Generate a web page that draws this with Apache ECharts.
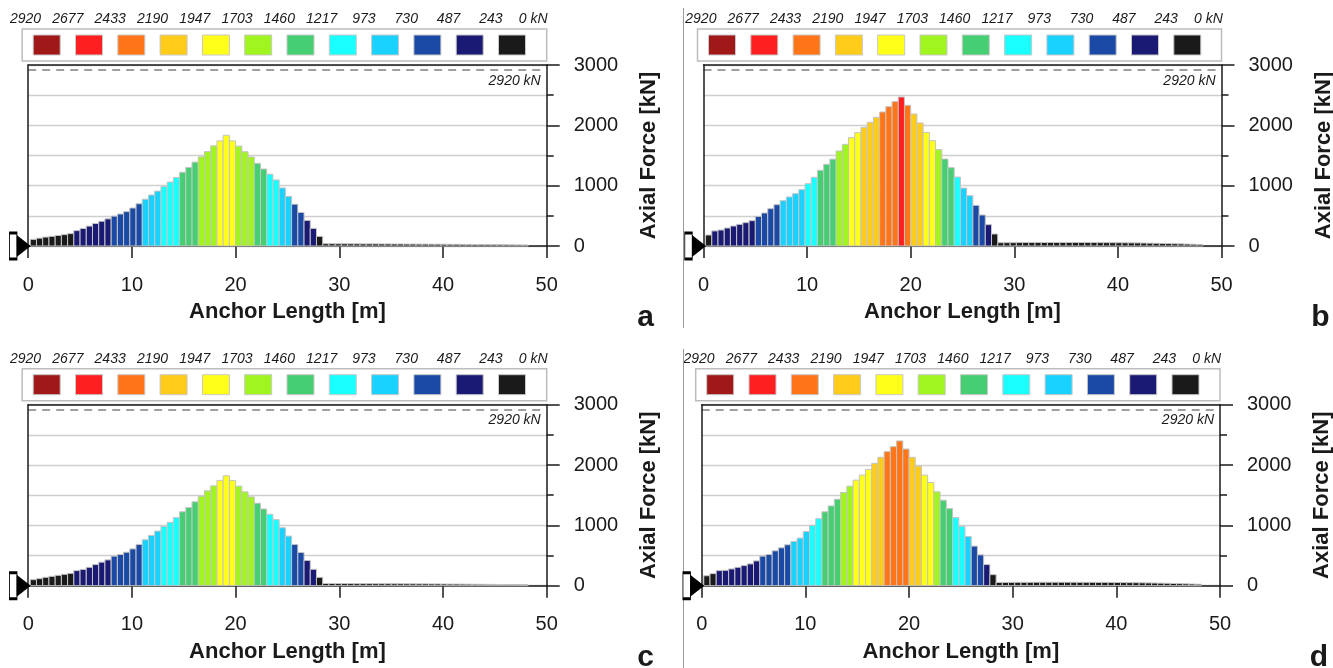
<!DOCTYPE html>
<html><head><meta charset="utf-8">
<script src="https://cdn.jsdelivr.net/npm/echarts@6/dist/echarts.min.js"></script>
<style>html,body{margin:0;padding:0;background:#fff}#chart{width:1333px;height:668px}</style>
</head><body><div id="chart"></div>
<script>
// ---- legend (colour classes, high to low) ----
const legendLabels = ['2920','2677','2433','2190','1947','1703','1460','1217','973','730','487','243','0 kN'];
const classThresholds = [2920,2677,2433,2190,1947,1703,1460,1217,973,730,487,243,0];
const classColors = ['#a01818','#fe2020','#ff7518','#ffcc1a','#ffff1a','#a0f51f','#45cf72','#1affff','#1ad2ff','#1a4aa5','#1a1a75','#1a1a1a'];
const tendonCapacity = 2920;

// ---- anchor elements ----
const FIRST_ELEMENT_M = 0.2;
const ELEMENT_LENGTH_M = 0.6;

// ---- axial force per element [kN], bonded part ----
const forceA = [110,130,148,160,175,188,205,255,290,330,372,410,450,495,530,570,630,700,775,845,910,985,1060,1135,1221,1303,1390,1478,1565,1660,1742,1835,1742,1655,1562,1475,1370,1276,1190,1095,962,820,693,555,424,292,160];
const forceB = [182,250,265,298,331,359,387,420,490,547,619,685,751,812,867,934,1033,1138,1254,1354,1440,1575,1685,1796,1879,1967,2050,2133,2221,2310,2393,2470,2332,2188,2039,1884,1746,1597,1442,1298,1143,960,834,674,514,354,199];
const forceC = [100,117,139,155,172,189,205,250,270,305,350,390,428,490,517,555,610,683,761,833,905,983,1050,1128,1225,1295,1390,1483,1572,1655,1745,1822,1745,1650,1555,1472,1367,1272,1183,1094,961,822,683,550,417,272,139];
const forceD = [165,200,250,255,278,305,333,361,411,490,517,578,628,678,733,789,900,1000,1111,1225,1322,1433,1544,1650,1750,1833,1928,2028,2128,2222,2305,2400,2265,2128,1983,1833,1710,1556,1417,1278,1128,985,817,656,511,350,183];
// ---- free length (tail) ----
const tailA = [38,38,37,37,36,36,35,35,35,34,34,33,33,32,32,31,31,30,30,29,28,28,27,26,25,24,23,22,21,20,19,18,17];
const tailB = [55,56,56,57,57,57,58,58,58,58,58,58,58,57,57,57,56,56,55,54,53,52,51,49,47,45,43,40,38,35,32,29,26];
const tailC = [36,36,35,35,35,34,34,34,33,33,33,32,32,31,31,30,30,29,29,28,27,27,26,25,24,23,22,21,20,19,18,17,16];
const tailD = [54,55,55,56,56,56,57,57,57,57,57,57,57,56,56,56,55,55,54,53,52,51,50,48,46,44,42,40,37,34,31,28,25];

const xTicks = {min:0, max:50, interval:10};
const yTicks = {min:0, max:3000, interval:1000};

const FONT = "'Liberation Sans', Arial, sans-serif";
const INK = '#1a1a1a';

function colorFor(v){
  for (let i = 0; i < classColors.length; i++) {
    if (v >= classThresholds[i+1]) return classColors[i];
  }
  return classColors[classColors.length-1];
}

const panels = [
  {letter:'a', force:forceA, tail:tailA, left:28.2,  top:65,    width:518.5, height:181},
  {letter:'b', force:forceB, tail:tailB, left:703.5, top:65,    width:518,   height:181},
  {letter:'c', force:forceC, tail:tailC, left:28.2,  top:404.7, width:518.5, height:181},
  {letter:'d', force:forceD, tail:tailD, left:701.7, top:404.7, width:518.3, height:181}
];

const option = {animation:false, backgroundColor:'#fff', grid:[], xAxis:[], yAxis:[], series:[], graphic:[]};
const lineStyle = {color:INK, width:1.5};

panels.forEach((p, i) => {
  option.grid.push({left:p.left, top:p.top, width:p.width, height:p.height, containLabel:false, outerBoundsMode:'none'});
  option.xAxis.push({
    gridIndex:i, type:'value', min:xTicks.min, max:xTicks.max, interval:xTicks.interval, position:'bottom',
    axisLine:{show:true, onZero:false, lineStyle},
    axisTick:{show:true, length:12, lineStyle},
    axisLabel:{margin:29, fontSize:20, color:INK, fontFamily:FONT, formatter:v => String(v)},
    splitLine:{show:false},
    name:'Anchor Length [m]', nameLocation:'middle', nameGap:55,
    nameTextStyle:{fontSize:22, fontWeight:'bold', color:INK, fontFamily:FONT}
  });
  option.xAxis.push({
    gridIndex:i, type:'value', min:xTicks.min, max:xTicks.max, position:'top', z:5,
    axisLine:{show:true, onZero:false, lineStyle}, axisTick:{show:false}, axisLabel:{show:false}, splitLine:{show:false}
  });
  option.yAxis.push({
    gridIndex:i, type:'value', min:yTicks.min, max:yTicks.max, interval:yTicks.interval, position:'right',
    axisLine:{show:true, onZero:false, lineStyle},
    axisTick:{show:true, length:13, lineStyle},
    minorTick:{show:true, splitNumber:2, length:7, lineStyle},
    axisLabel:{margin:27, fontSize:20, color:INK, fontFamily:FONT, formatter:v => String(v)},
    splitLine:{show:true, lineStyle:{color:'#cfcfcf', width:1.3}},
    minorSplitLine:{show:true, lineStyle:{color:'#cfcfcf', width:1.3}},
    name:'Axial Force [kN]', nameLocation:'middle', nameRotate:90, nameGap:91,
    nameTextStyle:{fontSize:22, fontWeight:'bold', color:INK, fontFamily:FONT}
  });
  option.yAxis.push({
    gridIndex:i, type:'value', min:yTicks.min, max:yTicks.max, position:'left', z:5,
    axisLine:{show:true, onZero:false, lineStyle}, axisTick:{show:false}, axisLabel:{show:false}, splitLine:{show:false}
  });

  const forces = p.force.concat(p.tail);
  option.series.push({
    type:'custom', coordinateSystem:'cartesian2d', xAxisIndex:2*i, yAxisIndex:2*i, silent:true, clip:false, z:2,
    data: forces.map((f, k) => [FIRST_ELEMENT_M + (k + 0.5) * ELEMENT_LENGTH_M, f]),
    encode:{x:0, y:1},
    renderItem: (params, api) => {
      const xc = api.value(0), f = api.value(1);
      const a = api.coord([xc - ELEMENT_LENGTH_M/2, f]);
      const b = api.coord([xc + ELEMENT_LENGTH_M/2, 0]);
      return {type:'rect', shape:{x:a[0], y:a[1], width:b[0]-a[0], height:b[1]-a[1]},
        style:{fill:colorFor(f), stroke:'#c4c4c4', lineWidth:1}};
    },
    markLine:{
      silent:true, symbol:'none',
      lineStyle:{type:[8,6], color:'#808080', width:1.5},
      label:{show:true, position:'insideEndBottom', formatter:tendonCapacity + ' kN', fontStyle:'italic', fontSize:14, color:INK, fontFamily:FONT, distance:[6,4]},
      data:[{yAxis:tendonCapacity}]
    }
  });
  // anchor head symbol at the origin
  option.series.push({
    type:'scatter', xAxisIndex:2*i, yAxisIndex:2*i, silent:true, clip:false, z:6,
    data:[[0,0]], symbol:'rect', symbolSize:[7.5,26], symbolOffset:[-15,0],
    itemStyle:{color:'#fff', borderColor:'#000', borderWidth:1.6, opacity:1}
  });
  option.series.push({
    type:'scatter', xAxisIndex:2*i, yAxisIndex:2*i, silent:true, clip:false, z:7,
    data:[[0,0]], symbol:'triangle', symbolRotate:-90, symbolSize:[22,14], symbolOffset:[-4.5,0],
    itemStyle:{color:'#000', opacity:1}
  });

  // legend strip
  const children = [];
  children.push({type:'rect', shape:{x:p.left-6, y:p.top-36, width:p.width+6, height:32},
    style:{fill:'none', stroke:'#bdbdbd', lineWidth:1.5}});
  classColors.forEach((c, k) => {
    children.push({type:'rect', shape:{x:p.left+5+k*42.3, y:p.top-30, width:27, height:20},
      style:{fill:c, stroke:'#c8c8c8', lineWidth:1}});
  });
  legendLabels.forEach((t, k) => {
    children.push({type:'text', x:p.left-2.65+k*42.3, y:p.top-46,
      style:{text:t, fontSize:14, fontStyle:'italic', fontFamily:FONT, fill:INK, align:'center', verticalAlign:'middle'}});
  });
  children.push({type:'text', x:p.left+p.width+99, y:p.top+p.height+72,
    style:{text:p.letter, fontSize:30, fontWeight:'bold', fontFamily:FONT, fill:INK, align:'center', verticalAlign:'middle'}});
  option.graphic.push({type:'group', silent:true, children});
});
// thin separators left of panels b and d
option.graphic.push({type:'line', silent:true, shape:{x1:683.5, y1:8, x2:683.5, y2:328}, style:{stroke:'#999', lineWidth:1}});
option.graphic.push({type:'line', silent:true, shape:{x1:683.5, y1:349, x2:683.5, y2:668}, style:{stroke:'#999', lineWidth:1}});

const chart = echarts.init(document.getElementById('chart'), null, {renderer:'canvas'});
chart.setOption(option);
</script>
</body></html>
